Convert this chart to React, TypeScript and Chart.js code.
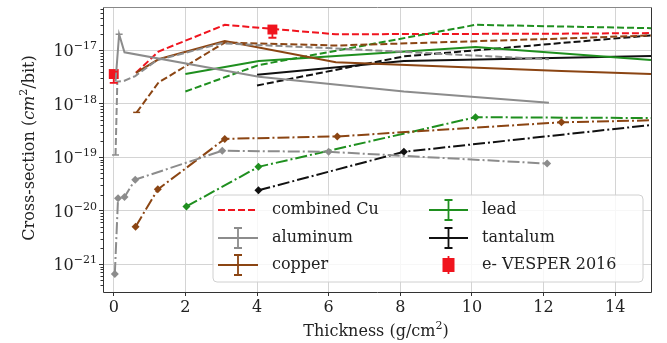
import React, { useEffect, useRef } from "react";
import { Chart, registerables } from "chart.js";

Chart.register(...registerables);

const FONT = "'DejaVu Serif', serif";

// ---- axes ----
const xMin = -0.3;
const xMax = 15;
const yMin = 3.32e-22;
const yMax = 6.47e-17;
const xTicks = [0, 2, 4, 6, 8, 10, 12, 14];
const yTickExps = [-21, -20, -19, -18, -17];

// ---- series (x: thickness g/cm², y: cross-section cm²/bit) ----
const combinedCuX = [0.62, 1.25, 3.1, 6.2, 12.5, 15];
const combinedCuY = [3.8e-18, 9.5e-18, 3.0e-17, 2.0e-17, 2.05e-17, 2.1e-17];

const alSolidX = [0.05, 0.15, 0.3, 4.05, 8.1, 12.15];
const alSolidY = [2.6e-18, 2.0e-17, 9.2e-18, 3.2e-18, 1.7e-18, 1.05e-18];
const alDashX = [0.05, 0.1, 0.3, 0.6, 1.2, 3.0, 6.0, 12.15];
const alDashY = [1.1e-19, 2.6e-18, 2.7e-18, 3.3e-18, 6.5e-18, 1.35e-17, 1.1e-17, 6.8e-18];
const alDotX = [0.03, 0.12, 0.3, 0.6, 3.03, 6.0, 12.1];
const alDotY = [6.5e-22, 1.7e-20, 1.8e-20, 3.8e-20, 1.32e-19, 1.26e-19, 7.6e-20];

const cuSolidX = [0.62, 1.25, 3.1, 6.2, 12.5, 15];
const cuSolidY = [3.8e-18, 6.8e-18, 1.5e-17, 6.0e-18, 4.1e-18, 3.6e-18];
const cuDashX = [0.64, 1.25, 3.1, 6.2, 12.5, 15];
const cuDashY = [6.9e-19, 2.5e-18, 1.4e-17, 1.23e-17, 1.66e-17, 1.9e-17];
const cuDotX = [0.61, 1.23, 3.1, 6.24, 12.5, 15];
const cuDotY = [5.0e-21, 2.5e-20, 2.2e-19, 2.45e-19, 4.5e-19, 4.9e-19];

const pbSolidX = [2.0, 4.05, 10.1, 15];
const pbSolidY = [3.6e-18, 6.3e-18, 1.15e-17, 6.6e-18];
const pbDashX = [2.0, 4.05, 10.1, 15];
const pbDashY = [1.7e-18, 5.3e-18, 3.0e-17, 2.6e-17];
const pbDotX = [2.03, 4.04, 10.1, 15];
const pbDotY = [1.2e-20, 6.6e-20, 5.6e-19, 5.4e-19];

const taSolidX = [4.0, 8.1, 15];
const taSolidY = [3.5e-18, 6.3e-18, 7.8e-18];
const taDashX = [4.0, 8.1, 15];
const taDashY = [2.2e-18, 7.7e-18, 1.9e-17];
const taDotX = [4.04, 8.1, 15];
const taDotY = [2.4e-20, 1.26e-19, 4.0e-19];

const vesperX = [0.0, 4.43];
const vesperY = [3.6e-18, 2.45e-17];
const vesperLo = [2.45e-18, 1.72e-17];
const vesperHi = [4.0e-18, 2.7e-17];

// error-bar caps visible on simulation curves
const capX = [0.05, 0.15, 0.64];
const capY = [1.1e-19, 2.0e-17, 6.9e-19];
const capColor = ["#8c8c8c", "#8c8c8c", "#8b4513"];

// legend
const legendLabels = ["combined Cu", "aluminum", "copper", "lead", "tantalum", "e- VESPER 2016"];

// ---- styles ----
const RED = "#f0141e";
const GRAY = "#8c8c8c";
const BROWN = "#8b4513";
const GREEN = "#1f8f1f";
const BLACK = "#111111";
const DASH = [7, 3];
const DASHDOT = [12, 3, 2, 3];
const GRID = "#d4d4d4";
const TEXT = "#222222";

const pts = (xs: number[], ys: number[]) => xs.map((x, i) => ({ x, y: ys[i] }));

function lineDs(xs: number[], ys: number[], color: string, kind: "solid" | "dash" | "dot") {
  return {
    data: pts(xs, ys),
    borderColor: color,
    backgroundColor: color,
    borderWidth: 2,
    borderDash: kind === "solid" ? [] : kind === "dash" ? DASH : DASHDOT,
    pointStyle: "rectRot",
    pointRadius: kind === "dot" ? (c: any) => (xs[c.dataIndex] >= xMax ? 0 : 4) : 0,
    pointBorderWidth: 0,
    tension: 0,
    fill: false,
  };
}

function drawErrorHandle(ctx: CanvasRenderingContext2D, x0: number, x1: number, y: number, color: string) {
  ctx.strokeStyle = color;
  ctx.lineWidth = 1.8;
  ctx.setLineDash([]);
  ctx.beginPath();
  ctx.moveTo(x0, y);
  ctx.lineTo(x1, y);
  const xc = (x0 + x1) / 2;
  ctx.moveTo(xc, y - 10);
  ctx.lineTo(xc, y + 10);
  ctx.moveTo(xc - 4, y - 10);
  ctx.lineTo(xc + 4, y - 10);
  ctx.moveTo(xc - 4, y + 10);
  ctx.lineTo(xc + 4, y + 10);
  ctx.stroke();
}

const decorPlugin = {
  id: "decor",
  afterDatasetsDraw(chart: any) {
    const ctx: CanvasRenderingContext2D = chart.ctx;
    const xs = chart.scales.x;
    const ys = chart.scales.y;
    const a = chart.chartArea;
    ctx.save();
    // caps on curves
    ctx.lineWidth = 1.5;
    capX.forEach((cx, i) => {
      const px = xs.getPixelForValue(cx);
      const py = ys.getPixelForValue(capY[i]);
      ctx.strokeStyle = capColor[i];
      ctx.beginPath();
      ctx.moveTo(px - 3.5, py);
      ctx.lineTo(px + 3.5, py);
      ctx.stroke();
    });
    // VESPER error bars
    ctx.strokeStyle = RED;
    ctx.lineWidth = 1.8;
    vesperX.forEach((vx, i) => {
      const px = xs.getPixelForValue(vx);
      const lo = ys.getPixelForValue(vesperLo[i]);
      const hi = ys.getPixelForValue(vesperHi[i]);
      ctx.beginPath();
      ctx.moveTo(px, lo);
      ctx.lineTo(px, hi);
      ctx.moveTo(px - 4, lo);
      ctx.lineTo(px + 4, lo);
      ctx.moveTo(px - 4, hi);
      ctx.lineTo(px + 4, hi);
      ctx.stroke();
    });
    ctx.restore();

    // frame
    ctx.save();
    ctx.lineWidth = 1;
    ctx.strokeStyle = "#333";
    ctx.beginPath();
    ctx.moveTo(a.left + 0.5, a.top);
    ctx.lineTo(a.left + 0.5, a.bottom + 0.5);
    ctx.lineTo(a.right + 0.5, a.bottom + 0.5);
    ctx.lineTo(a.right + 0.5, a.top);
    ctx.stroke();
    ctx.strokeStyle = "#888";
    ctx.beginPath();
    ctx.moveTo(a.left, a.top + 0.5);
    ctx.lineTo(a.right + 1, a.top + 0.5);
    ctx.stroke();

    // minor y ticks
    ctx.strokeStyle = "#333";
    for (let k = -22; k <= -17; k++) {
      for (let m = 2; m <= 9; m++) {
        const v = m * Math.pow(10, k);
        if (v < yMin || v > yMax) continue;
        const py = Math.round(ys.getPixelForValue(v)) + 0.5;
        ctx.beginPath();
        ctx.moveTo(a.left - 2.5, py);
        ctx.lineTo(a.left, py);
        ctx.stroke();
      }
    }

    // y tick labels 10^k
    ctx.fillStyle = TEXT;
    ctx.textBaseline = "alphabetic";
    yTickExps.forEach((e) => {
      const py = ys.getPixelForValue(Math.pow(10, e));
      const sup = "\u2212" + String(Math.abs(e));
      ctx.font = `11px ${FONT}`;
      const ws = ctx.measureText(sup).width;
      ctx.font = `16px ${FONT}`;
      const wb = ctx.measureText("10").width;
      const right = a.left - 6;
      ctx.fillText("10", right - ws - wb, py + 6);
      ctx.font = `11px ${FONT}`;
      ctx.fillText(sup, right - ws, py - 1);
    });

    // y title
    ctx.save();
    ctx.translate(28, 148);
    ctx.rotate(-Math.PI / 2);
    const parts = [
      { t: "Cross-section (", f: `16px ${FONT}`, dy: 0 },
      { t: "cm", f: `italic 16px ${FONT}`, dy: 0 },
      { t: "2", f: `11px ${FONT}`, dy: -7 },
      { t: "/bit)", f: `16px ${FONT}`, dy: 0 },
    ];
    let total = 0;
    parts.forEach((p) => {
      ctx.font = p.f;
      total += ctx.measureText(p.t).width;
    });
    let cx = -total / 2;
    parts.forEach((p) => {
      ctx.font = p.f;
      ctx.fillText(p.t, cx, 5.5 + p.dy);
      cx += ctx.measureText(p.t).width;
    });
    ctx.restore();

    // x title
    const xparts = [
      { t: "Thickness (g/cm", f: `16px ${FONT}`, dy: 0 },
      { t: "2", f: `11px ${FONT}`, dy: -7 },
      { t: ")", f: `16px ${FONT}`, dy: 0 },
    ];
    let tw = 0;
    xparts.forEach((p) => {
      ctx.font = p.f;
      tw += ctx.measureText(p.t).width;
    });
    let tx = 376 - tw / 2;
    xparts.forEach((p) => {
      ctx.font = p.f;
      ctx.fillText(p.t, tx, 336 + p.dy);
      tx += ctx.measureText(p.t).width;
    });
    ctx.restore();
  },
  afterDraw(chart: any) {
    const ctx: CanvasRenderingContext2D = chart.ctx;
    ctx.save();
    // legend box
    const L = 213, T = 195, W = 430, H = 87, r = 4;
    ctx.beginPath();
    ctx.moveTo(L + r, T);
    ctx.lineTo(L + W - r, T);
    ctx.quadraticCurveTo(L + W, T, L + W, T + r);
    ctx.lineTo(L + W, T + H - r);
    ctx.quadraticCurveTo(L + W, T + H, L + W - r, T + H);
    ctx.lineTo(L + r, T + H);
    ctx.quadraticCurveTo(L, T + H, L, T + H - r);
    ctx.lineTo(L, T + r);
    ctx.quadraticCurveTo(L, T, L + r, T);
    ctx.closePath();
    ctx.fillStyle = "rgba(255,255,255,0.8)";
    ctx.fill();
    ctx.strokeStyle = "#d0d0d0";
    ctx.lineWidth = 1;
    ctx.stroke();

    const rows = [210, 238, 265];
    const c1 = [218, 258, 272];
    const c2 = [429, 468, 482];
    // handles
    ctx.strokeStyle = RED;
    ctx.lineWidth = 2;
    ctx.setLineDash(DASH);
    ctx.beginPath();
    ctx.moveTo(c1[0], rows[0]);
    ctx.lineTo(c1[1], rows[0]);
    ctx.stroke();
    ctx.setLineDash([]);
    drawErrorHandle(ctx, c1[0], c1[1], rows[1], GRAY);
    drawErrorHandle(ctx, c1[0], c1[1], rows[2], BROWN);
    drawErrorHandle(ctx, c2[0], c2[1], rows[0], GREEN);
    drawErrorHandle(ctx, c2[0], c2[1], rows[1], BLACK);
    // VESPER handle
    const vx = (c2[0] + c2[1]) / 2;
    ctx.strokeStyle = RED;
    ctx.lineWidth = 1.8;
    ctx.beginPath();
    ctx.moveTo(vx, rows[2] - 9);
    ctx.lineTo(vx, rows[2] + 9);
    ctx.stroke();
    ctx.fillStyle = RED;
    ctx.fillRect(vx - 6, rows[2] - 7, 12, 14);

    // texts
    ctx.fillStyle = TEXT;
    ctx.font = `16px ${FONT}`;
    ctx.textBaseline = "middle";
    for (let i = 0; i < 3; i++) ctx.fillText(legendLabels[i], c1[2], rows[i]);
    for (let i = 0; i < 3; i++) ctx.fillText(legendLabels[i + 3], c2[2], rows[i]);
    ctx.restore();
  },
};

export default function App() {
  const ref = useRef<HTMLCanvasElement | null>(null);
  useEffect(() => {
    if (!ref.current) return;
    const datasets: any[] = [
      lineDs(alDotX, alDotY, GRAY, "dot"),
      lineDs(cuDotX, cuDotY, BROWN, "dot"),
      lineDs(pbDotX, pbDotY, GREEN, "dot"),
      lineDs(taDotX, taDotY, BLACK, "dot"),
      lineDs(alSolidX, alSolidY, GRAY, "solid"),
      lineDs(alDashX, alDashY, GRAY, "dash"),
      lineDs(cuSolidX, cuSolidY, BROWN, "solid"),
      lineDs(cuDashX, cuDashY, BROWN, "dash"),
      lineDs(pbSolidX, pbSolidY, GREEN, "solid"),
      lineDs(pbDashX, pbDashY, GREEN, "dash"),
      lineDs(taSolidX, taSolidY, BLACK, "solid"),
      lineDs(taDashX, taDashY, BLACK, "dash"),
      lineDs(combinedCuX, combinedCuY, RED, "dash"),
      {
        data: pts(vesperX, vesperY),
        showLine: false,
        pointStyle: "rect",
        pointRadius: 7,
        pointBackgroundColor: RED,
        pointBorderColor: RED,
        pointBorderWidth: 0,
      },
    ];
    const chart = new Chart(ref.current, {
      type: "line",
      data: { datasets },
      options: {
        animation: false,
        responsive: false,
        maintainAspectRatio: false,
        events: [],
        layout: { padding: { left: 0, right: 16, top: 5, bottom: 0 } },
        plugins: { legend: { display: false }, tooltip: { enabled: false } },
        scales: {
          x: {
            type: "linear",
            min: xMin,
            max: xMax,
            afterBuildTicks: (s: any) => {
              s.ticks = xTicks.map((v) => ({ value: v }));
            },
            afterFit: (s: any) => {
              s.height = 51;
            },
            grid: { color: GRID, lineWidth: 1, tickLength: 4, tickColor: "#333", drawTicks: true },
            border: { display: false },
            ticks: { font: { family: FONT, size: 16 }, color: TEXT, padding: 2, maxRotation: 0, autoSkip: false },
          },
          y: {
            type: "logarithmic",
            min: yMin,
            max: yMax,
            afterBuildTicks: (s: any) => {
              s.ticks = yTickExps.map((e) => ({ value: Math.pow(10, e) }));
            },
            afterFit: (s: any) => {
              s.width = 103;
            },
            grid: { color: GRID, lineWidth: 1, tickLength: 4, tickColor: "#333", drawTicks: true },
            border: { display: false },
            ticks: { display: false },
          },
        },
      } as any,
      plugins: [decorPlugin],
    });
    return () => chart.destroy();
  }, []);
  return (
    <div style={{ position: "fixed", left: 0, top: 0, width: 667, height: 343, background: "#fff" }}>
      <canvas ref={ref} width={667} height={343} style={{ display: "block", width: 667, height: 343 }} />
    </div>
  );
}
